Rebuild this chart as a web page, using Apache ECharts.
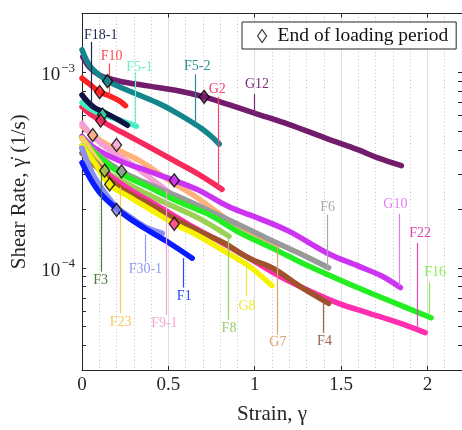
<!DOCTYPE html>
<html>
<head>
<meta charset="utf-8">
<script src="https://cdn.jsdelivr.net/npm/echarts@6/dist/echarts.min.js"></script>
<style>
  html, body { margin: 0; padding: 0; background: #fff; }
  #chart { width: 462px; height: 430px; }
</style>
</head>
<body>
<div id="chart"></div>
<script>
// measured curves: [strain, shear rate (1/s)]
const F1 = [[0, 3.45e-4], [0.044, 2.9e-4], [0.102, 2.43e-4], [0.188, 2.05e-4], [0.275, 1.79e-4], [0.39, 1.54e-4], [0.505, 1.34e-4], [0.638, 1.12e-4]];
const F3 = [[0, 4.2e-4], [0.056, 3.65e-4], [0.114, 3.18e-4]];
const F4 = [[0, 3.87e-4], [0.102, 3.18e-4], [0.217, 2.58e-4], [0.39, 2.12e-4], [0.534, 1.79e-4], [0.678, 1.54e-4], [0.822, 1.34e-4], [0.967, 1.12e-4], [1.11, 9.89e-5], [1.255, 8.11e-5], [1.428, 6.58e-5]];
const F5_1 = [[0, 6.99e-4], [0.056, 6.44e-4], [0.119, 6.08e-4], [0.188, 5.81e-4], [0.258, 5.54e-4], [0.315, 5.3e-4]];
const F5_2 = [[0, 1.305e-3], [0.044, 1.084e-3], [0.102, 9.66e-4], [0.148, 9.01e-4], [0.246, 8.21e-4], [0.344, 7.57e-4], [0.448, 6.91e-4], [0.534, 6.3e-4], [0.621, 5.67e-4], [0.69, 5.17e-4], [0.748, 4.71e-4], [0.794, 4.3e-4]];
const F6 = [[0, 4.61e-4], [0.102, 3.74e-4], [0.229, 3.11e-4], [0.39, 2.67e-4], [0.563, 2.3e-4], [0.736, 1.96e-4], [0.909, 1.66e-4], [1.082, 1.4e-4], [1.255, 1.19e-4], [1.428, 1.0e-4]];
const F8 = [[0, 4.1e-4], [0.073, 3.53e-4], [0.131, 3.14e-4], [0.246, 2.74e-4], [0.39, 2.35e-4], [0.534, 2.05e-4], [0.678, 1.79e-4], [0.851, 1.45e-4]];
const F9_1 = [[0, 5.48e-4], [0.073, 4.61e-4], [0.16, 4.01e-4], [0.275, 3.45e-4], [0.39, 2.9e-4], [0.505, 2.43e-4]];
const F10 = [[0, 9.33e-4], [0.044, 8.7e-4], [0.102, 7.93e-4], [0.16, 7.57e-4], [0.217, 7.15e-4], [0.252, 6.75e-4]];
const F16 = [[0, 4.61e-4], [0.073, 3.87e-4], [0.217, 3.07e-4], [0.39, 2.58e-4], [0.563, 2.17e-4], [0.736, 1.87e-4], [0.909, 1.52e-4], [1.11, 1.25e-4], [1.312, 1.02e-4], [1.543, 8.29e-5], [1.773, 6.82e-5], [2.021, 5.55e-5]];
const F18_1 = [[0, 7.66e-4], [0.033, 7.07e-4], [0.073, 6.59e-4], [0.131, 6.22e-4], [0.206, 5.74e-4], [0.263, 5.36e-4]];
const F22 = [[0, 4.1e-4], [0.102, 3.26e-4], [0.275, 2.52e-4], [0.448, 2.05e-4], [0.621, 1.66e-4], [0.794, 1.37e-4], [0.967, 1.12e-4], [1.139, 9.1e-5], [1.312, 7.65e-5], [1.485, 6.58e-5], [1.658, 5.87e-5], [1.831, 5.24e-5], [1.987, 4.66e-5]];
const F23 = [[0, 4.61e-4], [0.102, 3.45e-4], [0.223, 2.58e-4]];
const F30_1 = [[0, 4.1e-4], [0.033, 3.45e-4], [0.073, 2.9e-4], [0.131, 2.43e-4], [0.2, 2.05e-4], [0.275, 1.83e-4], [0.361, 1.63e-4], [0.465, 1.5e-4]];
const G2 = [[0, 6.67e-4], [0.044, 6.15e-4], [0.108, 5.67e-4], [0.188, 5.17e-4], [0.275, 4.71e-4], [0.39, 4.15e-4], [0.534, 3.53e-4], [0.678, 3.0e-4], [0.811, 2.52e-4]];
const G7 = [[0, 5.3e-4], [0.062, 4.77e-4], [0.16, 4.2e-4], [0.332, 3.53e-4], [0.505, 2.8e-4], [0.678, 2.25e-4], [0.851, 1.74e-4], [0.995, 1.48e-4], [1.128, 1.27e-4]];
const G8 = [[0, 4.2e-4], [0.073, 3.45e-4], [0.16, 2.67e-4], [0.275, 2.3e-4], [0.39, 2.0e-4], [0.534, 1.68e-4], [0.678, 1.45e-4], [0.822, 1.22e-4], [0.967, 1.02e-4], [1.099, 8.11e-5]];
const G10 = [[0, 4.71e-4], [0.073, 4.1e-4], [0.217, 3.53e-4], [0.39, 3.11e-4], [0.534, 2.8e-4], [0.678, 2.49e-4], [0.851, 2.05e-4], [1.024, 1.79e-4], [1.197, 1.54e-4], [1.428, 1.18e-4], [1.6, 1.02e-4], [1.733, 9.1e-5], [1.843, 7.92e-5]];
const G12 = [[0.004, 1.203e-3], [0.044, 1.059e-3], [0.102, 9.66e-4], [0.217, 9.01e-4], [0.39, 8.5e-4], [0.563, 8.02e-4], [0.707, 7.49e-4], [0.851, 6.83e-4], [1.007, 6.15e-4], [1.197, 5.42e-4], [1.41, 4.61e-4], [1.6, 4.01e-4], [1.713, 3.65e-4], [1.849, 3.33e-4]];

// drawing order (later ones on top)
const testNames = ["G12", "F5-2", "F10", "G2", "F5-1", "F18-1", "G7", "F9-1", "G10", "F6", "F16", "F23", "F8", "F3", "F22", "F4", "G8", "F30-1", "F1"];
const testData = [G12, F5_2, F10, G2, F5_1, F18_1, G7, F9_1, G10, F6, F16, F23, F8, F3, F22, F4, G8, F30_1, F1];

// end of loading period
const loadEndTest = ["F5-2", "G12", "F10", "F5-1", "G2", "G7", "F9-1", "F8", "F6", "G8", "F30-1", "G10", "F22"];
const loadEndStrain = [0.148, 0.707, 0.102, 0.119, 0.108, 0.062, 0.2, 0.131, 0.229, 0.16, 0.2, 0.534, 0.534];
const loadEndRate = [9.01e-4, 7.49e-4, 7.93e-4, 6.08e-4, 5.67e-4, 4.77e-4, 4.25e-4, 3.14e-4, 3.11e-4, 2.67e-4, 1.98e-4, 2.8e-4, 1.68e-4];

// axis ticks
const xTicks = [0, 0.5, 1, 1.5, 2];
const yMajor = [1e-4, 1e-3];
const yMinor = [4e-5, 5e-5, 6e-5, 7e-5, 8e-5, 9e-5, 2e-4, 3e-4, 4e-4, 5e-4, 6e-4, 7e-4, 8e-4, 9e-4];

// annotation placement: text [strain, rate], leader [strain, rate from, rate to]
const tagText = {
  "F18-1": [0.108, 1.553e-3], "F10": [0.172, 1.203e-3], "F5-1": [0.333, 1.059e-3], "F5-2": [0.667, 1.072e-3],
  "G2": [0.783, 8.21e-4], "G12": [1.013, 8.7e-4], "F6": [1.422, 2.05e-4], "G10": [1.814, 2.1e-4],
  "F22": [1.958, 1.5e-4], "F16": [2.044, 9.44e-5], "F4": [1.404, 4.2e-5], "G7": [1.134, 4.15e-5],
  "G8": [0.955, 6.37e-5], "F8": [0.851, 4.88e-5], "F9-1": [0.477, 5.17e-5], "F1": [0.592, 7.15e-5],
  "F23": [0.223, 5.29e-5], "F30-1": [0.367, 9.77e-5], "F3": [0.108, 8.6e-5]
};
const tagLeader = {
  "F18-1": [0.056, 1.431e-3, 6.52e-4], "F10": [0.16, 1.11e-3, 7.57e-4], "F5-1": [0.31, 1e-3, 5.36e-4], "F5-2": [0.655, 9.77e-4, 5.42e-4],
  "G2": [0.788, 7.49e-4, 2.58e-4], "G12": [1.0, 7.75e-4, 6.15e-4], "F6": [1.422, 1.87e-4, 1e-4], "G10": [1.837, 1.89e-4, 8.11e-5],
  "F22": [1.941, 1.34e-4, 4.82e-5], "F16": [2.01, 8.41e-5, 5.73e-5], "F4": [1.399, 6.67e-5, 4.66e-5], "G7": [1.128, 1.26e-4, 4.55e-5],
  "G8": [0.949, 1.047e-4, 7.15e-5], "F8": [0.846, 1.45e-4, 5.42e-5], "F9-1": [0.488, 2.49e-4, 5.73e-5], "F1": [0.586, 1.12e-4, 7.92e-5],
  "F23": [0.223, 2.58e-4, 5.87e-5], "F30-1": [0.367, 1.48e-4, 1.07e-4], "F3": [0.114, 3.18e-4, 9.55e-5]
};

const lineColor = {
  "F1": "#0a1cff", "F3": "#4b8b3b", "F4": "#a0522d", "F5-1": "#45f0c0", "F5-2": "#13868c", "F6": "#999999",
  "F8": "#9ad155", "F9-1": "#f59fd8", "F10": "#ff2020", "F16": "#22ee22", "F18-1": "#0d1445", "F22": "#ff2fb0",
  "F23": "#ffcf5c", "F30-1": "#8a90f2", "G2": "#f72a5e", "G7": "#ffb37b", "G8": "#f6f200", "G10": "#cc33f2", "G12": "#731c6e"
};
const tagColor = {
  "F1": "#2a48ff", "F3": "#4d7d3d", "F4": "#a0604a", "F5-1": "#6cf0cc", "F5-2": "#2a8a90", "F6": "#aaaaaa",
  "F8": "#99cc66", "F9-1": "#f5a5d8", "F10": "#ff4a4a", "F16": "#88ee55", "F18-1": "#1c2450", "F22": "#e04aa8",
  "F23": "#f5c85a", "F30-1": "#8f9af0", "G2": "#f7406e", "G7": "#d9a56f", "G8": "#eee838", "G10": "#e07ef5", "G12": "#7d2c78"
};

const serif = "Liberation Serif";
const ink = "#262626";

var series = [];

// horizontal grid (log axis minor values need explicit lines)
series.push({
  type: "line",
  data: [],
  silent: true,
  z: 0,
  markLine: {
    silent: true,
    symbol: "none",
    label: { show: false },
    animation: false,
    data: yMinor.map((v) => ({ yAxis: v, lineStyle: { color: "#c4c4c4", type: [1, 2.5], width: 1 } }))
      .concat(yMajor.map((v) => ({ yAxis: v, lineStyle: { color: "#dedede", type: "solid", width: 1 } }))),
  },
});

testNames.forEach((name, i) => {
  const t = tagText[name];
  const l = tagLeader[name];
  series.push({
    name: name,
    type: "line",
    data: testData[i],
    smooth: 0.35,
    showSymbol: false,
    silent: true,
    z: 2,
    lineStyle: { width: 5.5, color: lineColor[name], cap: "round" },
    itemStyle: { color: lineColor[name] },
    markLine: {
      silent: true,
      symbol: "none",
      label: { show: false },
      lineStyle: { color: tagColor[name], width: 1.2, type: "solid" },
      data: [[{ coord: [l[0], l[1]] }, { coord: [l[0], l[2]] }]],
    },
    markPoint: {
      symbol: "circle",
      symbolSize: 1,
      itemStyle: { color: "rgba(0,0,0,0)" },
      label: {
        show: true,
        position: "inside",
        formatter: name,
        color: tagColor[name],
        fontSize: 14,
        fontFamily: serif,
      },
      data: [{ coord: t }],
    },
  });
});

series.push({
  name: "End of loading period",
  type: "scatter",
  symbol: "diamond",
  symbolSize: [10, 13],
  z: 5,
  itemStyle: { color: "#fff", borderColor: "#000", borderWidth: 1.4 },
  data: loadEndTest.map((n, i) => ({
    value: [loadEndStrain[i], loadEndRate[i]],
    itemStyle: { color: lineColor[n], borderColor: "#000", borderWidth: 1.4 },
  })),
});

function powLabel(v) {
  const p = Math.round(Math.log10(v));
  return "{b|10}{s|" + (p < 0 ? "\u2212" + -p : p) + "}";
}

const yTickStyle = { show: true, inside: true, length: 4, lineStyle: { color: ink, width: 1 } };

var option = {
  animation: false,
  backgroundColor: "#fff",
  grid: { left: 82, top: 13.5, right: -2, bottom: 54.5, containLabel: false },
  legend: {
    data: ["End of loading period"],
    left: 242,
    top: 22,
    padding: [4, 8, 3, 15],
    itemWidth: 9,
    itemHeight: 13,
    icon: "diamond",
    borderColor: ink,
    borderWidth: 1,
    borderRadius: 0,
    backgroundColor: "#fff",
    itemStyle: { color: "#fff", borderColor: "#000", borderWidth: 1.2 },
    textStyle: { fontFamily: serif, fontSize: 19.5, color: "#111", padding: [0, 0, 0, 6] },
  },
  xAxis: [
    {
      type: "value",
      min: 0,
      max: 2.2,
      interval: 0.5,
      name: "Strain, \u03b3",
      nameLocation: "middle",
      nameGap: 34,
      nameTextStyle: { fontFamily: serif, fontSize: 21, color: ink },
      axisLine: { show: true, onZero: false, lineStyle: { color: ink, width: 1 } },
      axisTick: { show: true, inside: true, length: 4, lineStyle: { color: ink } },
      axisLabel: {
        fontFamily: serif,
        fontSize: 19,
        color: ink,
        margin: 6,
        showMaxLabel: false,
        formatter: (v) => (xTicks.includes(v) ? String(v) : ""),
      },
      splitLine: { show: true, lineStyle: { color: "#dedede", width: 1 } },
      minorTick: { show: false, splitNumber: 5 },
      minorSplitLine: { show: true, lineStyle: { color: "#c4c4c4", type: [1, 2.5], width: 1 } },
    },
    {
      type: "value",
      position: "top",
      min: 0,
      max: 2.2,
      interval: 0.5,
      axisLine: { show: true, onZero: false, lineStyle: { color: ink, width: 1 } },
      axisTick: { show: true, inside: true, length: 4, lineStyle: { color: ink } },
      axisLabel: { show: false },
      splitLine: { show: false },
    },
  ],
  yAxis: [
    {
      type: "log",
      logBase: 10,
      min: 3e-5,
      max: 2e-3,
      name: "Shear Rate, \u03b3\u0307 (1/s)",
      nameLocation: "middle",
      nameGap: 50,
      nameTextStyle: { fontFamily: serif, fontSize: 21, color: ink },
      axisLine: { show: true, onZero: false, lineStyle: { color: ink, width: 1 } },
      axisTick: Object.assign({ customValues: yMajor.concat(yMinor) }, yTickStyle),
      axisLabel: {
        customValues: yMajor,
        margin: 7,
        formatter: powLabel,
        rich: {
          b: { fontFamily: serif, fontSize: 19, color: ink, padding: [6, 0, 0, 0] },
          s: { fontFamily: serif, fontSize: 13, color: ink, padding: [0, 0, 8, 1] },
        },
      },
      splitLine: { show: false },
    },
    {
      type: "log",
      logBase: 10,
      min: 3e-5,
      max: 2e-3,
      position: "right",
      axisLine: { show: true, onZero: false, lineStyle: { color: ink, width: 1 } },
      axisTick: Object.assign({ customValues: yMajor.concat(yMinor) }, yTickStyle),
      axisLabel: { show: false },
      splitLine: { show: false },
    },
  ],
  series: series,
};

var chart = echarts.init(document.getElementById("chart"));
chart.setOption(option);
</script>
</body>
</html>
